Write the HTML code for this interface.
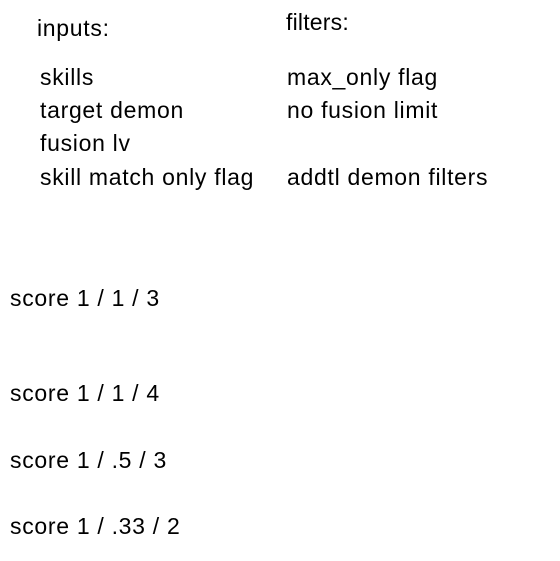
<!DOCTYPE html>
<html><head><meta charset="utf-8"><style>
html,body{margin:0;padding:0;background:#fff;width:560px;height:561px;overflow:hidden}
div{position:absolute;font-family:"Liberation Sans",sans-serif;font-size:23px;letter-spacing:0.7px;color:#000;white-space:nowrap;line-height:28px}
</style></head><body>
<div style="left:37px;top:14px">inputs:</div>
<div style="left:286px;top:8px;letter-spacing:0.2px">filters:</div>
<div style="left:40px;top:63px">skills</div>
<div style="left:40px;top:96px">target demon</div>
<div style="left:40px;top:129px">fusion lv</div>
<div style="left:40px;top:163px">skill match only flag</div>
<div style="left:287px;top:63px">max_only flag</div>
<div style="left:287px;top:96px">no fusion limit</div>
<div style="left:287px;top:163px">addtl demon filters</div>
<div style="left:10px;top:284px">score 1 / 1 / 3</div>
<div style="left:10px;top:379px">score 1 / 1 / 4</div>
<div style="left:10px;top:446px">score 1 / .5 / 3</div>
<div style="left:10px;top:512px">score 1 / .33 / 2</div>
</body></html>
